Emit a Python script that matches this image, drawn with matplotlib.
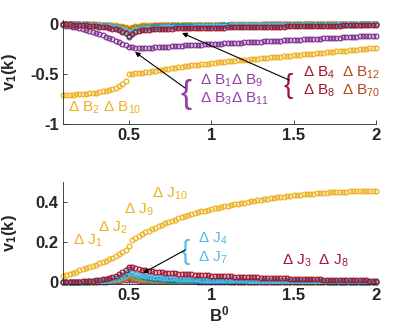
import numpy as np
import matplotlib
matplotlib.use("Agg")
import matplotlib.pyplot as plt

plt.rcParams['font.family'] = ['Liberation Sans', 'DejaVu Sans']
plt.rcParams['mathtext.fontset'] = 'custom'
plt.rcParams['mathtext.rm'] = 'Liberation Sans'
plt.rcParams['mathtext.it'] = 'Liberation Sans:italic'
plt.rcParams['mathtext.bf'] = 'Liberation Sans:bold'
plt.rcParams['axes.unicode_minus'] = False

# ---------------- data ----------------
B0 = np.round(np.arange(96) * 0.02 + 0.1, 2)   # B^0 grid 0.10 ... 2.00

top_yellow = [
    -0.708, -0.707, -0.706, -0.705, -0.703, -0.701, -0.699, -0.696, -0.693, -0.689,
    -0.685, -0.680, -0.674, -0.667, -0.659, -0.650, -0.638, -0.622, -0.600, -0.565,
    -0.503, -0.498, -0.494, -0.490, -0.485, -0.480, -0.476, -0.471, -0.467, -0.462,
    -0.457, -0.452, -0.447, -0.442, -0.437, -0.432, -0.427, -0.423, -0.419, -0.414,
    -0.410, -0.406, -0.402, -0.398, -0.395, -0.391, -0.388, -0.384, -0.381, -0.377,
    -0.374, -0.371, -0.367, -0.364, -0.361, -0.358, -0.355, -0.352, -0.349, -0.346,
    -0.343, -0.340, -0.337, -0.334, -0.331, -0.328, -0.325, -0.322, -0.319, -0.316,
    -0.313, -0.310, -0.307, -0.304, -0.301, -0.298, -0.295, -0.292, -0.289, -0.286,
    -0.283, -0.280, -0.277, -0.274, -0.271, -0.268, -0.265, -0.262, -0.259, -0.256,
    -0.253, -0.250, -0.247, -0.244, -0.241, -0.238]

top_purple = [
    -0.012, -0.016, -0.021, -0.027, -0.034, -0.042, -0.051, -0.060, -0.070, -0.080,
    -0.090, -0.101, -0.113, -0.126, -0.139, -0.153, -0.167, -0.181, -0.196, -0.211,
    -0.226, -0.233, -0.236, -0.237, -0.237, -0.237, -0.236, -0.235, -0.234, -0.232,
    -0.230, -0.228, -0.226, -0.224, -0.221, -0.218, -0.216, -0.214, -0.213, -0.211,
    -0.209, -0.208, -0.206, -0.204, -0.203, -0.201, -0.199, -0.197, -0.196, -0.194,
    -0.192, -0.191, -0.189, -0.187, -0.186, -0.184, -0.182, -0.180, -0.179, -0.177,
    -0.175, -0.174, -0.172, -0.170, -0.169, -0.167, -0.165, -0.163, -0.162, -0.160,
    -0.158, -0.157, -0.155, -0.153, -0.152, -0.150, -0.148, -0.146, -0.145, -0.143,
    -0.141, -0.140, -0.138, -0.136, -0.135, -0.133, -0.131, -0.129, -0.128, -0.126,
    -0.124, -0.123, -0.121, -0.119, -0.118, -0.116]

top_darkred = [
    -0.002, -0.003, -0.004, -0.005, -0.006, -0.008, -0.010, -0.012, -0.015, -0.018,
    -0.021, -0.025, -0.029, -0.034, -0.040, -0.046, -0.054, -0.064, -0.076, -0.092,
    -0.118, -0.095, -0.080, -0.070, -0.064, -0.060, -0.057, -0.054, -0.052, -0.050,
    -0.048, -0.047, -0.046, -0.045, -0.044, -0.043, -0.042, -0.042, -0.041, -0.041,
    -0.040, -0.040, -0.039, -0.038, -0.038, -0.037, -0.037, -0.036, -0.036, -0.035,
    -0.034, -0.034, -0.033, -0.033, -0.032, -0.032, -0.031, -0.030, -0.030, -0.029,
    -0.029, -0.028, -0.028, -0.027, -0.026, -0.026, -0.025, -0.025, -0.024, -0.024,
    -0.023, -0.022, -0.022, -0.021, -0.021, -0.020, -0.019, -0.019, -0.018, -0.018,
    -0.017, -0.017, -0.016, -0.015, -0.015, -0.014, -0.014, -0.013, -0.013, -0.012,
    -0.011, -0.011, -0.010, -0.010, -0.009, -0.009]

top_blue = [
    -0.001, -0.001, -0.002, -0.002, -0.003, -0.004, -0.005, -0.006, -0.008, -0.010,
    -0.012, -0.015, -0.018, -0.022, -0.027, -0.033, -0.041, -0.052, -0.067, -0.090,
    -0.132, -0.088, -0.066, -0.054, -0.046, -0.040, -0.036, -0.033, -0.031, -0.029,
    -0.027, -0.026, -0.025, -0.024, -0.023, -0.022, -0.021, -0.020, -0.020, -0.019,
    -0.018, -0.018, -0.017, -0.017, -0.016, -0.016, -0.015, -0.015, -0.014, -0.014,
    -0.013, -0.013, -0.013, -0.012, -0.012, -0.012, -0.011, -0.011, -0.011, -0.010,
    -0.010, -0.010, -0.010, -0.009, -0.009, -0.009, -0.009, -0.008, -0.008, -0.008,
    -0.008, -0.008, -0.007, -0.007, -0.007, -0.007, -0.007, -0.006, -0.006, -0.006,
    -0.006, -0.006, -0.006, -0.006, -0.005, -0.005, -0.005, -0.005, -0.005, -0.005,
    -0.005, -0.004, -0.004, -0.004, -0.004, -0.004]

top_lightblue = [
    -0.001, -0.001, -0.001, -0.002, -0.002, -0.003, -0.004, -0.005, -0.006, -0.008,
    -0.010, -0.012, -0.015, -0.018, -0.022, -0.027, -0.034, -0.043, -0.055, -0.074,
    -0.108, -0.078, -0.062, -0.054, -0.048, -0.044, -0.041, -0.039, -0.037, -0.035,
    -0.034, -0.033, -0.032, -0.031, -0.030, -0.029, -0.028, -0.027, -0.026, -0.025,
    -0.024, -0.023, -0.022, -0.021, -0.020, -0.019, -0.018, -0.017, -0.016, -0.016,
    -0.015, -0.014, -0.014, -0.013, -0.013, -0.012, -0.012, -0.011, -0.011, -0.010,
    -0.010, -0.010, -0.009, -0.009, -0.009, -0.008, -0.008, -0.008, -0.008, -0.007,
    -0.007, -0.007, -0.007, -0.006, -0.006, -0.006, -0.006, -0.006, -0.005, -0.005,
    -0.005, -0.005, -0.005, -0.005, -0.004, -0.004, -0.004, -0.004, -0.004, -0.004,
    -0.004, -0.003, -0.003, -0.003, -0.003, -0.003]

top_green = [
    0.000, -0.001, -0.001, -0.001, -0.002, -0.002, -0.003, -0.004, -0.005, -0.006,
    -0.007, -0.009, -0.011, -0.014, -0.017, -0.021, -0.026, -0.033, -0.042, -0.056,
    -0.080, -0.056, -0.043, -0.035, -0.030, -0.026, -0.023, -0.021, -0.019, -0.017,
    -0.016, -0.015, -0.014, -0.013, -0.012, -0.012, -0.011, -0.011, -0.010, -0.010,
    -0.009, -0.009, -0.009, -0.008, -0.008, -0.008, -0.007, -0.007, -0.007, -0.007,
    -0.006, -0.006, -0.006, -0.006, -0.006, -0.006, -0.006, -0.006, -0.006, -0.006,
    -0.006, -0.005, -0.005, -0.005, -0.005, -0.005, -0.005, -0.005, -0.005, -0.005,
    -0.005, -0.004, -0.004, -0.004, -0.004, -0.004, -0.004, -0.004, -0.004, -0.004,
    -0.004, -0.003, -0.003, -0.003, -0.003, -0.003, -0.003, -0.003, -0.003, -0.003,
    -0.003, -0.003, -0.003, -0.003, -0.003, -0.003]

top_orange = [
    0.000, 0.000, -0.001, -0.001, -0.001, -0.002, -0.002, -0.003, -0.003, -0.004,
    -0.005, -0.007, -0.008, -0.010, -0.013, -0.016, -0.020, -0.025, -0.032, -0.042,
    -0.060, -0.042, -0.032, -0.026, -0.022, -0.019, -0.017, -0.015, -0.014, -0.013,
    -0.012, -0.011, -0.010, -0.010, -0.009, -0.009, -0.008, -0.008, -0.008, -0.007,
    -0.007, -0.007, -0.006, -0.006, -0.006, -0.006, -0.006, -0.006, -0.006, -0.006,
    -0.006, -0.005, -0.005, -0.005, -0.005, -0.005, -0.005, -0.005, -0.005, -0.005,
    -0.005, -0.004, -0.004, -0.004, -0.004, -0.004, -0.004, -0.004, -0.004, -0.004,
    -0.004, -0.003, -0.003, -0.003, -0.003, -0.003, -0.003, -0.003, -0.003, -0.003,
    -0.003, -0.002, -0.002, -0.002, -0.002, -0.002, -0.002, -0.002, -0.002, -0.002,
    -0.002, -0.002, -0.002, -0.002, -0.002, -0.002]

top_yellow2 = [
    0.000, 0.000, 0.000, -0.001, -0.001, -0.001, -0.001, -0.002, -0.002, -0.002,
    -0.003, -0.004, -0.005, -0.006, -0.008, -0.009, -0.012, -0.015, -0.019, -0.025,
    -0.035, -0.025, -0.019, -0.015, -0.013, -0.011, -0.010, -0.009, -0.008, -0.008,
    -0.007, -0.007, -0.006, -0.006, -0.006, -0.006, -0.006, -0.006, -0.006, -0.006,
    -0.006, -0.005, -0.005, -0.005, -0.005, -0.005, -0.005, -0.005, -0.005, -0.005,
    -0.005, -0.004, -0.004, -0.004, -0.004, -0.004, -0.004, -0.004, -0.004, -0.004,
    -0.004, -0.003, -0.003, -0.003, -0.003, -0.003, -0.003, -0.003, -0.003, -0.003,
    -0.003, -0.002, -0.002, -0.002, -0.002, -0.002, -0.002, -0.002, -0.002, -0.002,
    -0.002, -0.002, -0.002, -0.002, -0.002, -0.002, -0.002, -0.002, -0.002, -0.002,
    -0.002, -0.002, -0.002, -0.002, -0.002, -0.002]

bot_yellow = [
    0.032, 0.037, 0.042, 0.047, 0.052, 0.058, 0.063, 0.069, 0.074, 0.080,
    0.086, 0.093, 0.100, 0.107, 0.114, 0.121, 0.129, 0.138, 0.148, 0.162,
    0.180, 0.208, 0.220, 0.230, 0.239, 0.248, 0.256, 0.264, 0.271, 0.279,
    0.286, 0.293, 0.300, 0.306, 0.312, 0.318, 0.324, 0.329, 0.334, 0.339,
    0.344, 0.349, 0.353, 0.357, 0.361, 0.365, 0.369, 0.372, 0.376, 0.379,
    0.382, 0.385, 0.388, 0.391, 0.394, 0.397, 0.400, 0.403, 0.406, 0.408,
    0.411, 0.413, 0.416, 0.418, 0.421, 0.423, 0.425, 0.427, 0.429, 0.431,
    0.433, 0.435, 0.436, 0.438, 0.439, 0.441, 0.442, 0.443, 0.445, 0.446,
    0.447, 0.448, 0.449, 0.449, 0.450, 0.451, 0.452, 0.453, 0.453, 0.454,
    0.455, 0.455, 0.456, 0.456, 0.457, 0.457]

bot_darkred = [
    0.000, 0.000, 0.001, 0.001, 0.002, 0.002, 0.003, 0.004, 0.005, 0.007,
    0.009, 0.011, 0.014, 0.017, 0.021, 0.026, 0.032, 0.039, 0.048, 0.060,
    0.077, 0.074, 0.070, 0.066, 0.062, 0.059, 0.056, 0.054, 0.052, 0.050,
    0.048, 0.046, 0.045, 0.044, 0.043, 0.042, 0.041, 0.040, 0.039, 0.038,
    0.037, 0.036, 0.035, 0.034, 0.033, 0.032, 0.031, 0.031, 0.030, 0.029,
    0.028, 0.028, 0.027, 0.026, 0.026, 0.025, 0.024, 0.024, 0.023, 0.023,
    0.022, 0.022, 0.021, 0.020, 0.020, 0.019, 0.019, 0.018, 0.018, 0.017,
    0.017, 0.016, 0.016, 0.015, 0.015, 0.014, 0.014, 0.013, 0.013, 0.012,
    0.012, 0.011, 0.011, 0.011, 0.010, 0.010, 0.010, 0.009, 0.009, 0.009,
    0.008, 0.008, 0.008, 0.007, 0.007, 0.007]

bot_blue = [
    0.000, 0.000, 0.000, 0.001, 0.001, 0.001, 0.002, 0.002, 0.003, 0.004,
    0.005, 0.006, 0.008, 0.010, 0.013, 0.016, 0.020, 0.026, 0.034, 0.045,
    0.065, 0.050, 0.040, 0.033, 0.028, 0.024, 0.021, 0.019, 0.017, 0.015,
    0.014, 0.013, 0.012, 0.011, 0.010, 0.010, 0.009, 0.009, 0.008, 0.008,
    0.007, 0.007, 0.007, 0.006, 0.006, 0.006, 0.006, 0.005, 0.005, 0.005,
    0.005, 0.005, 0.004, 0.004, 0.004, 0.004, 0.004, 0.004, 0.004, 0.004,
    0.004, 0.004, 0.004, 0.003, 0.003, 0.003, 0.003, 0.003, 0.003, 0.003,
    0.003, 0.003, 0.003, 0.003, 0.003, 0.003, 0.003, 0.003, 0.003, 0.003,
    0.003, 0.002, 0.002, 0.002, 0.002, 0.002, 0.002, 0.002, 0.002, 0.002,
    0.002, 0.002, 0.002, 0.002, 0.002, 0.002]

bot_lightblue = [
    0.000, 0.000, 0.000, 0.001, 0.001, 0.001, 0.002, 0.002, 0.003, 0.003,
    0.004, 0.005, 0.007, 0.009, 0.011, 0.014, 0.017, 0.022, 0.028, 0.037,
    0.052, 0.046, 0.041, 0.037, 0.034, 0.031, 0.029, 0.027, 0.025, 0.023,
    0.022, 0.021, 0.020, 0.019, 0.018, 0.017, 0.016, 0.015, 0.015, 0.014,
    0.013, 0.013, 0.012, 0.012, 0.011, 0.011, 0.010, 0.010, 0.010, 0.009,
    0.009, 0.009, 0.008, 0.008, 0.008, 0.008, 0.007, 0.007, 0.007, 0.007,
    0.007, 0.006, 0.006, 0.006, 0.006, 0.006, 0.006, 0.006, 0.006, 0.006,
    0.006, 0.005, 0.005, 0.005, 0.005, 0.005, 0.005, 0.005, 0.005, 0.005,
    0.005, 0.004, 0.004, 0.004, 0.004, 0.004, 0.004, 0.004, 0.004, 0.004,
    0.004, 0.004, 0.004, 0.004, 0.004, 0.004]

bot_green = [
    0.000, 0.000, 0.000, 0.000, 0.001, 0.001, 0.001, 0.002, 0.002, 0.002,
    0.003, 0.004, 0.005, 0.006, 0.008, 0.010, 0.013, 0.016, 0.021, 0.028,
    0.040, 0.030, 0.024, 0.020, 0.017, 0.015, 0.013, 0.012, 0.011, 0.010,
    0.009, 0.008, 0.008, 0.007, 0.007, 0.006, 0.006, 0.006, 0.005, 0.005,
    0.005, 0.005, 0.004, 0.004, 0.004, 0.004, 0.004, 0.004, 0.004, 0.004,
    0.004, 0.004, 0.004, 0.003, 0.003, 0.003, 0.003, 0.003, 0.003, 0.003,
    0.003, 0.003, 0.003, 0.003, 0.003, 0.003, 0.003, 0.003, 0.003, 0.003,
    0.003, 0.002, 0.002, 0.002, 0.002, 0.002, 0.002, 0.002, 0.002, 0.002,
    0.002, 0.002, 0.002, 0.002, 0.002, 0.002, 0.002, 0.002, 0.002, 0.002,
    0.002, 0.002, 0.002, 0.002, 0.002, 0.002]

bot_orange = [
    0.000, 0.000, 0.000, 0.000, 0.000, 0.001, 0.001, 0.001, 0.001, 0.002,
    0.002, 0.003, 0.003, 0.004, 0.005, 0.007, 0.009, 0.011, 0.015, 0.020,
    0.028, 0.021, 0.017, 0.014, 0.012, 0.010, 0.009, 0.008, 0.007, 0.007,
    0.006, 0.006, 0.005, 0.005, 0.005, 0.004, 0.004, 0.004, 0.004, 0.003,
    0.003, 0.003, 0.003, 0.003, 0.003, 0.003, 0.003, 0.003, 0.003, 0.003,
    0.003, 0.002, 0.002, 0.002, 0.002, 0.002, 0.002, 0.002, 0.002, 0.002,
    0.002, 0.002, 0.002, 0.002, 0.002, 0.002, 0.002, 0.002, 0.002, 0.002,
    0.002, 0.001, 0.001, 0.001, 0.001, 0.001, 0.001, 0.001, 0.001, 0.001,
    0.001, 0.001, 0.001, 0.001, 0.001, 0.001, 0.001, 0.001, 0.001, 0.001,
    0.001, 0.001, 0.001, 0.001, 0.001, 0.001]

bot_purple = [
    0.000, 0.000, 0.000, 0.000, 0.000, 0.000, 0.001, 0.001, 0.001, 0.001,
    0.001, 0.001, 0.002, 0.002, 0.003, 0.004, 0.005, 0.006, 0.008, 0.011,
    0.015, 0.011, 0.009, 0.007, 0.006, 0.005, 0.005, 0.004, 0.004, 0.004,
    0.003, 0.003, 0.003, 0.003, 0.003, 0.003, 0.003, 0.003, 0.003, 0.003,
    0.003, 0.002, 0.002, 0.002, 0.002, 0.002, 0.002, 0.002, 0.002, 0.002,
    0.002, 0.001, 0.001, 0.001, 0.001, 0.001, 0.001, 0.001, 0.001, 0.001,
    0.001, 0.001, 0.001, 0.001, 0.001, 0.001, 0.001, 0.001, 0.001, 0.001,
    0.001, 0.001, 0.001, 0.001, 0.001, 0.001, 0.001, 0.001, 0.001, 0.001,
    0.001, 0.001, 0.001, 0.001, 0.001, 0.001, 0.001, 0.001, 0.001, 0.001,
    0.001, 0.001, 0.001, 0.001, 0.001, 0.001]

x_ticks = [0.5, 1, 1.5, 2]
x_ticklabels = ['0.5', '1', '1.5', '2']
top_yticks = [-1, -0.5, 0]
top_yticklabels = ['-1', '-0.5', '0']
bot_yticks = [0, 0.2, 0.4]
bot_yticklabels = ['0', '0.2', '0.4']

# ---------------- style ----------------
C_BLUE = '#0072BD'
C_ORANGE = '#D95319'
C_YELLOW = '#EDB120'
C_PURPLE = '#7E2F8E'
C_GREEN = '#77AC30'
C_LBLUE = '#4DBEEE'
C_DRED = '#A2142F'
C_TXT_PURPLE = '#9140A6'
C_BROWN = '#B4481C'
AX_COL = '#262626'

W, H = 415, 333
fig = plt.figure(figsize=(W / 100, H / 100), dpi=100)
ax1 = fig.add_axes([63 / W, 1 - 124 / H, 313 / W, 104 / H])
ax2 = fig.add_axes([63 / W, 1 - 284 / H, 313 / W, 102 / H])

mk = dict(marker='o', linestyle='none', markersize=3.4, markeredgewidth=0.9,
          markerfacecolor='none', clip_on=False)

# top panel
ax1.plot(B0, top_yellow, color=C_YELLOW, **mk)
ax1.plot(B0, top_purple, color=C_PURPLE, **mk)
ax1.plot(B0, top_yellow2, color=C_YELLOW, **mk)
ax1.plot(B0, top_orange, color=C_ORANGE, **mk)
ax1.plot(B0, top_green, color=C_GREEN, **mk)
ax1.plot(B0, top_blue, color=C_BLUE, **mk)
ax1.plot(B0, top_lightblue, color=C_LBLUE, **mk)
ax1.plot(B0, top_darkred, color=C_DRED, **mk)

# bottom panel
ax2.plot(B0, bot_yellow, color=C_YELLOW, **mk)
ax2.plot(B0, bot_purple, color=C_PURPLE, **mk)
ax2.plot(B0, bot_orange, color=C_ORANGE, **mk)
ax2.plot(B0, bot_green, color=C_GREEN, **mk)
ax2.plot(B0, bot_blue, color=C_BLUE, **mk)
ax2.plot(B0, bot_lightblue, color=C_LBLUE, **mk)
ax2.plot(B0, bot_darkred, color=C_DRED, **mk)

for ax in (ax1, ax2):
    ax.set_xlim(0.1, 2.0)
    ax.set_xticks(x_ticks)
    ax.set_xticklabels(x_ticklabels, fontweight='bold')
    for s in ('top', 'right'):
        ax.spines[s].set_visible(False)
    for s in ('left', 'bottom'):
        ax.spines[s].set_color(AX_COL)
        ax.spines[s].set_linewidth(0.6)
    ax.tick_params(direction='in', length=3, width=0.6, colors=AX_COL,
                   labelsize=12, pad=3)

ax1.set_ylim(-1, 0.04)
ax1.set_yticks(top_yticks)
ax1.set_yticklabels(top_yticklabels, fontweight='bold')
ax2.set_ylim(-0.01, 0.5)
ax2.set_yticks(bot_yticks)
ax2.set_yticklabels(bot_yticklabels, fontweight='bold')

for ax in (ax1, ax2):
    ax.set_ylabel(r'v$_\mathbf{1}$(k)', fontsize=12, fontweight='bold', color=AX_COL)
    ax.yaxis.set_label_coords(-0.142, 0.5)
ax2.set_xlabel(r'B$^\mathbf{0}$', fontsize=12, fontweight='bold', color=AX_COL)
ax2.xaxis.set_label_coords(0.5, -0.2)

# ---------------- annotations ----------------
fs = 11
# top panel
ax1.text(0.13, -0.88, 'Δ B$_2$ Δ B$_{10}$', color=C_YELLOW, fontsize=fs)
ax1.text(0.815, -0.70, '{', color=C_TXT_PURPLE, fontsize=24, va='center', ha='left')
ax1.text(0.932, -0.61, 'Δ B$_1$Δ B$_9$', color=C_TXT_PURPLE, fontsize=fs)
ax1.text(0.932, -0.79, 'Δ B$_3$Δ B$_{11}$', color=C_TXT_PURPLE, fontsize=fs)
ax1.text(1.44, -0.62, '{', color=C_DRED, fontsize=20, va='center', ha='left')
ax1.text(1.557, -0.53, 'Δ B$_4$', color=C_DRED, fontsize=fs)
ax1.text(1.794, -0.53, 'Δ B$_{12}$', color=C_BROWN, fontsize=fs)
ax1.text(1.557, -0.71, 'Δ B$_8$', color=C_DRED, fontsize=fs)
ax1.text(1.794, -0.71, 'Δ B$_{70}$', color=C_BROWN, fontsize=fs)

arr = dict(arrowstyle='-|>', color='black', lw=0.8, mutation_scale=7,
           shrinkA=0, shrinkB=0)
ax1.annotate('', xy=(0.537, -0.28), xytext=(0.841, -0.64), arrowprops=arr)
ax1.annotate('', xy=(0.8225, -0.09), xytext=(1.472, -0.56), arrowprops=arr)

# bottom panel
ax2.text(0.16, 0.185, 'Δ J$_1$', color=C_YELLOW, fontsize=fs)
ax2.text(0.311, 0.252, 'Δ J$_2$', color=C_YELLOW, fontsize=fs)
ax2.text(0.47, 0.343, 'Δ J$_9$', color=C_YELLOW, fontsize=fs)
ax2.text(0.639, 0.423, 'Δ J$_{10}$', color=C_YELLOW, fontsize=fs)
ax2.text(0.815, 0.15, '{', color=C_LBLUE, fontsize=20, va='center', ha='left')
ax2.text(0.92, 0.195, 'Δ J$_4$', color=C_LBLUE, fontsize=fs)
ax2.text(0.92, 0.10, 'Δ J$_7$', color=C_LBLUE, fontsize=fs)
ax2.text(1.428, 0.085, 'Δ J$_3$  Δ J$_8$', color=C_DRED, fontsize=fs)
ax2.annotate('', xy=(0.586, 0.045), xytext=(0.841, 0.16), arrowprops=arr)

fig.savefig('out.png', dpi=100)
